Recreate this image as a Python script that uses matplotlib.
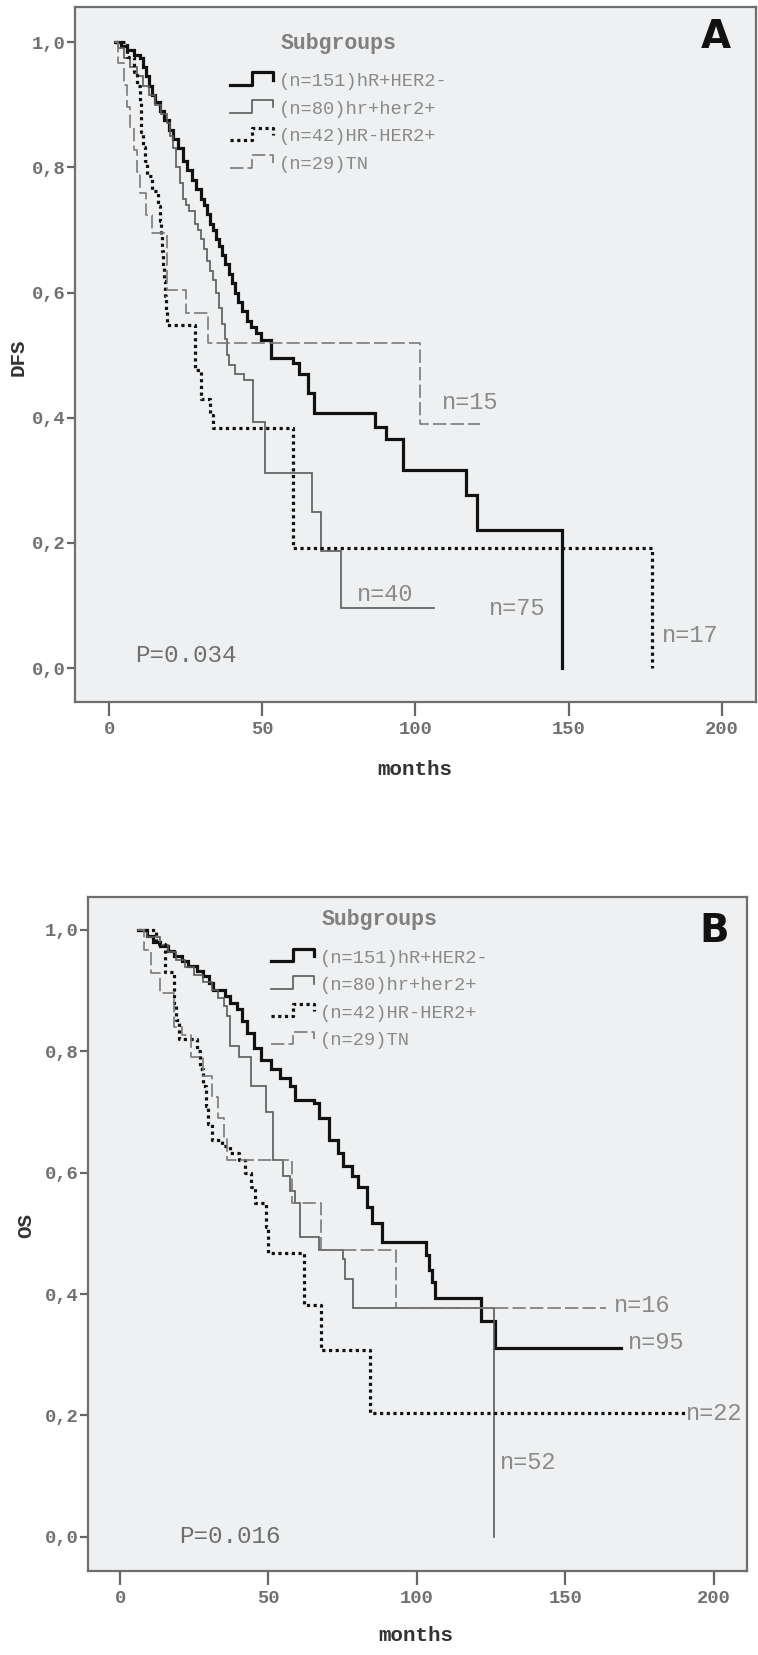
import matplotlib
matplotlib.use("Agg")
import matplotlib.pyplot as plt
from matplotlib.legend_handler import HandlerBase
from matplotlib.lines import Line2D

# Kaplan-Meier steps: time (months) and survival after the step

# A - DFS
dfs_hrpos_her2neg_t = [2, 4, 6, 8, 10, 11, 12, 13, 14, 15, 16.5, 18, 19.5, 21, 22.5, 24, 25.5, 27, 28.5, 30,
                       31, 32, 33, 34, 35, 36, 37, 38, 39, 40, 41, 42, 43.5, 45, 46.5, 48, 49.6, 52.8, 60, 62,
                       65, 67, 86.7, 90.5, 96, 116.6, 120, 148]
dfs_hrpos_her2neg_s = [1.0, .993, .987, .98, .975, .96, .945, .93, .915, .905, .89, .875, .86, .845, .83, .81,
                       .795, .78, .765, .75, .74, .725, .71, .70, .685, .675, .66, .645, .63, .615, .60, .585,
                       .57, .555, .545, .535, .524, .495, .487, .47, .44, .407, .385, .366, .316, .276, .22, 0.0]

dfs_hrpos_her2pos_t = [2, 3, 5, 7, 9, 11, 13, 15, 17, 19, 20, 21, 22, 23, 24, 25, 26, 28, 29, 30,
                       31, 32, 33, 34, 35, 36, 37, 38, 38.5, 39, 41, 44, 47, 50.8, 66.1, 69.3, 75.6, 106]
dfs_hrpos_her2pos_s = [1.0, .99, .975, .96, .945, .93, .915, .90, .885, .87, .85, .83, .80, .775, .75, .74,
                       .73, .71, .70, .685, .67, .65, .635, .62, .60, .575, .55, .525, .50, .485, .47, .46,
                       .393, .311, .25, .188, .096, .096]

dfs_hrneg_her2pos_t = [2, 6, 8, 9, 10, 10.5, 11, 11.7, 12.5, 14, 16, 16.5, 17, 17.3, 17.6, 18, 18.3, 18.6,
                       19, 28, 30, 33, 34, 60.2, 177.3]
dfs_hrneg_her2pos_s = [1.0, .976, .952, .929, .905, .857, .833, .81, .786, .762, .738, .714, .69, .667, .643,
                       .619, .595, .571, .548, .476, .43, .405, .383, .192, 0.0]

dfs_tn_t = [2, 3, 5, 6, 7, 8, 9, 10, 12, 14, 18.8, 25.1, 32.2, 101.6, 121]
dfs_tn_s = [1.0, .966, .931, .897, .862, .828, .793, .759, .724, .695, .604, .567, .519, .39, .39]

# B - OS
os_hrpos_her2neg_t = [6, 9, 11, 13.3, 16, 18.2, 21, 23, 26, 28, 30, 31.2, 35.2, 37, 39.3, 41, 42.6, 45, 47.5,
                      50.7, 54, 57.2, 58.8, 65.4, 67, 70.3, 73.5, 75, 78, 80, 83.2, 84.9, 88.2, 103, 104, 105,
                      106, 121.5, 126.4, 168.7]
os_hrpos_her2neg_s = [1.0, .99, .98, .973, .965, .956, .948, .94, .932, .923, .912, .90, .89, .88, .87, .85,
                      .83, .805, .786, .77, .755, .742, .72, .715, .69, .654, .632, .61, .595, .577, .544, .517,
                      .486, .465, .44, .42, .394, .355, .311, .311]

os_hrpos_her2pos_t = [6, 9, 13.3, 16, 19, 22, 25, 28, 31, 33, 35, 36, 37, 40, 44.2, 49.1, 51.5, 54.8, 57.2,
                      58.9, 60.5, 67, 75, 75.6, 78.4, 125.9]
os_hrpos_her2pos_s = [1.0, .988, .975, .963, .95, .938, .925, .913, .90, .888, .875, .857, .808, .79, .742,
                      .70, .621, .595, .57, .55, .494, .473, .458, .425, .377, 0.0]

os_hrneg_her2pos_t = [6, 12, 15, 18.2, 19, 20, 26, 27, 28, 28.8, 29.5, 31, 34.4, 37, 40, 42, 44, 45.5, 49, 50,
                      62.1, 67.8, 84.1, 190.7]
os_hrneg_her2pos_s = [1.0, .976, .93, .88, .852, .82, .80, .77, .742, .71, .68, .654, .643, .632, .621, .60,
                      .577, .55, .51, .467, .382, .308, .204, .204]

os_tn_t = [6, 8, 10.5, 13.3, 18.2, 21, 24, 28, 31, 33, 35, 36, 58, 67.8, 93, 163.8]
os_tn_s = [1.0, .966, .929, .896, .84, .826, .79, .759, .724, .69, .655, .621, .55, .473, .377, .377]

labels = ["(n=151)hR+HER2-", "(n=80)hr+her2+", "(n=42)HR-HER2+", "(n=29)TN"]

# end-of-curve labels: (text, month, survival)
dfs_notes = [("n=15", 108.6, 0.425), ("n=40", 81, 0.117), ("n=75", 124, 0.096), ("n=17", 180.4, 0.053)]
os_notes = [("n=16", 166.3, 0.381), ("n=95", 171, 0.32), ("n=22", 190.6, 0.204), ("n=52", 128, 0.122)]

styles = [
    dict(color="#111111", lw=2.3, ls="-"),
    dict(color="#5a5a5a", lw=1.2, ls="-"),
    dict(color="#111111", lw=2.3, ls=(0, (1, 1.1))),
    dict(color="#7a7a7a", lw=1.2, ls=(0, (8, 2.5))),
]

MONO = "Liberation Mono"


class StepHandler(HandlerBase):
    # little step icon like the SPSS legend
    def create_artists(self, legend, orig_handle, xdescent, ydescent, width, height, fontsize, trans):
        x0 = -xdescent
        y0 = -ydescent
        xm = x0 + 0.5 * width
        xs = [x0, xm, xm, x0 + width, x0 + width]
        ys = [y0 + 0.1 * height, y0 + 0.1 * height, y0 + 1.05 * height, y0 + 1.05 * height, y0 + 0.5 * height]
        ln = Line2D(xs, ys)
        ln.update_from(orig_handle)
        ln.set_data(xs, ys)
        ln.set_transform(trans)
        return [ln]


def draw_panel(ax, curves, notes, ylabel, pval, pval_pos, letter, letter_pos, leg_anchor, xlim, ylim):
    ax.set_facecolor("#eef0f1")
    handles = []
    for (t, s), st, lab in zip(curves, styles, labels):
        ax.step(t, s, where="post", solid_joinstyle="miter", **st)
        handles.append(Line2D([], [], color=st["color"], lw=st["lw"], ls=st["ls"], label=lab))
    for txt, x, y in notes:
        ax.text(x, y, txt, family=MONO, fontsize=17, color="#8a8a8a", va="center", ha="left")
    ax.text(pval_pos[0], pval_pos[1], pval, family=MONO, fontsize=17.5, color="#6e6e6e", va="center", ha="left")
    ax.text(letter_pos[0], letter_pos[1], letter, transform=ax.transAxes, fontsize=28,
            fontweight="bold", family="DejaVu Sans", ha="center", va="center", color="#111111")

    leg = ax.legend(handles=handles, loc="upper left", bbox_to_anchor=leg_anchor, frameon=False,
                    title="Subgroups", handler_map={Line2D: StepHandler()},
                    prop={"family": MONO, "size": 13.5}, handlelength=2.3, handletextpad=0.3,
                    labelspacing=0.56, borderpad=0, borderaxespad=0)
    leg.get_title().set_fontproperties({"family": MONO, "size": 15.5, "weight": "bold"})
    leg.get_title().set_color("#808080")
    leg._legend_box.sep = 14
    for tx in leg.get_texts():
        tx.set_color("#8a8a8a")

    ax.set_xlim(*xlim)
    ax.set_ylim(*ylim)
    ax.set_xticks([0, 50, 100, 150, 200])
    ax.set_yticks([0, 0.2, 0.4, 0.6, 0.8, 1.0])
    ax.set_yticklabels(["0,0", "0,2", "0,4", "0,6", "0,8", "1,0"])
    for lab in ax.get_xticklabels() + ax.get_yticklabels():
        lab.set_family(MONO)
        lab.set_fontweight("bold")
        lab.set_fontsize(13.5)
        lab.set_color("#707070")
    ax.tick_params(axis="x", length=10, width=1.6, color="#666666", pad=4)
    ax.tick_params(axis="y", length=6, width=1.6, color="#666666", pad=1)
    for sp in ax.spines.values():
        sp.set_color("#6e6e6e")
        sp.set_linewidth(1.6)
    ax.set_xlabel("months", family=MONO, fontsize=15, fontweight="bold", color="#333333")
    ax.set_ylabel(ylabel, family=MONO, fontsize=15, fontweight="bold", color="#333333")


fig = plt.figure(figsize=(7.58, 16.55), dpi=100)

ax_a = fig.add_axes([0.099, 0.5758, 0.898, 0.42])
draw_panel(ax_a,
           [(dfs_hrpos_her2neg_t, dfs_hrpos_her2neg_s), (dfs_hrpos_her2pos_t, dfs_hrpos_her2pos_s),
            (dfs_hrneg_her2pos_t, dfs_hrneg_her2pos_s), (dfs_tn_t, dfs_tn_s)],
           dfs_notes, "DFS", "P=0.034", (8.5, 0.02), "A", (0.941, 0.957), (0.228, 0.963),
           (-11.1, 211.1), (-0.054, 1.056))
ax_a.xaxis.set_label_coords(0.499, -0.083)
ax_a.yaxis.set_label_coords(-0.070, 0.496)

ax_b = fig.add_axes([0.116, 0.0508, 0.8694, 0.4073])
draw_panel(ax_b,
           [(os_hrpos_her2neg_t, os_hrpos_her2neg_s), (os_hrpos_her2pos_t, os_hrpos_her2pos_s),
            (os_hrneg_her2pos_t, os_hrneg_her2pos_s), (os_tn_t, os_tn_s)],
           os_notes, "OS", "P=0.016", (19.8, 0.0), "B", (0.951, 0.95), (0.278, 0.982),
           (-10.8, 211.1), (-0.056, 1.054))
ax_b.xaxis.set_label_coords(0.497, -0.0816)
ax_b.yaxis.set_label_coords(-0.080, 0.513)

fig.savefig("out.png", dpi=100, facecolor="white")
